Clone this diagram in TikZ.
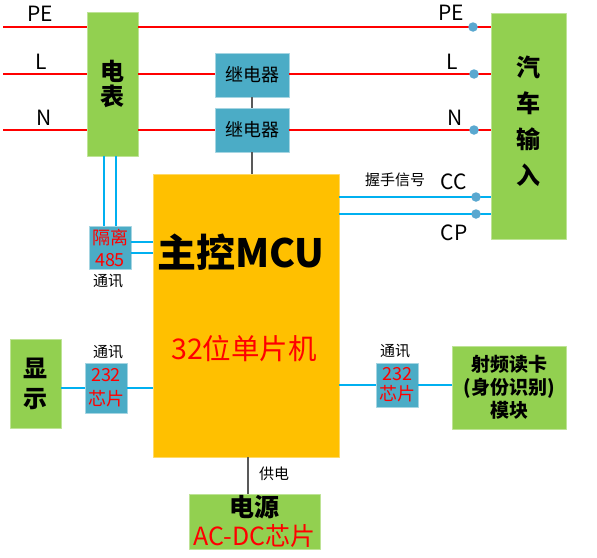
\documentclass[tikz,border=0pt]{standalone}
\usepackage{fontspec}
\setmainfont{Noto Sans CJK SC}
\usetikzlibrary{calc}
\definecolor{boxgreen}{HTML}{92D050}
\definecolor{relayblue}{HTML}{4BACC6}
\definecolor{mcuorange}{HTML}{FFC000}
\definecolor{sigblue}{HTML}{00B0F0}
\definecolor{tapblue}{HTML}{5AA8D0}
\definecolor{tiegray}{HTML}{595959}
\newcommand{\fsz}[2]{\fontsize{#1}{#2}\selectfont}
\begin{document}
\begin{tikzpicture}[x=1pt, y=-1pt, line join=round,
    box/.style={rectangle, inner sep=0pt, align=center},
    greenbox/.style={box, fill=boxgreen, draw=boxgreen!60!white, line width=0.8pt},
    relaybox/.style={box, fill=relayblue, draw=relayblue!50!white, line width=0.8pt},
    mains/.style={draw=red, line width=2pt},
    sig/.style={draw=sigblue, line width=1.8pt},
    tie/.style={draw=tiegray, line width=1.1pt},
    tap/.style={circle, fill=tapblue, inner sep=0pt, minimum size=9.5pt},
    lbl/.style={inner sep=0pt, font=\fsz{21}{21}},
    note/.style={inner sep=0pt, font=\fsz{15}{15}}]
    \useasboundingbox (0,0) rectangle (597,557);

    % boxes
    \node[greenbox, minimum width=51pt, minimum height=144pt, font=\fsz{24}{25}\bfseries] (meter) at (112.5,84) {电\\表};
    \node[relaybox, minimum width=74pt, minimum height=44pt, font=\fsz{18}{18}] (relayA) at (252,75) {继电器};
    \node[relaybox, minimum width=74pt, minimum height=44pt, font=\fsz{18}{18}] (relayB) at (252,130) {继电器};
    \node[greenbox, minimum width=75pt, minimum height=226pt] (car) at (528.5,126) {};
    \node[box, inner sep=0pt, font=\fsz{24}{36}\bfseries] (cartext) at (528,121) {汽\\车\\输\\入};
    \node[box, fill=mcuorange, draw=mcuorange!60!white, line width=0.8pt, minimum width=186pt, minimum height=283pt] (mcu) at (246,315.5) {};
    \node[inner sep=0pt, font=\fsz{39}{39}\bfseries] (mcutitle) at (241,252) {主控MCU};
    \node[inner sep=0pt, red, font=\fsz{28.5}{28.5}] (mcusub) at (244,349) {32位单片机};
    \node[relaybox, minimum width=42pt, minimum height=43pt, text=red, font=\fsz{18}{22}] (iso) at (110,247.5) {隔离\\485};
    \node[greenbox, minimum width=51pt, minimum height=89pt, font=\fsz{24}{30}\bfseries] (disp) at (35.5,383.5) {显\\示};
    \node[relaybox, minimum width=42pt, minimum height=50pt, text=red, font=\fsz{18}{24}] (chipL) at (106,388) {232\\芯片};
    \node[relaybox, minimum width=42pt, minimum height=44pt, text=red, font=\fsz{18}{20}] (chipR) at (397,385) {232\\芯片};
    \node[greenbox, minimum width=114pt, minimum height=83pt, font=\fsz{19}{23}\bfseries] (rfid) at (509,387.5) {射频读卡\\(身份识别)\\模块};
    \node[greenbox, minimum width=131pt, minimum height=55pt, font=\fsz{25}{29}] (power) at (254.5,521.5) {\bfseries 电源\\\textcolor{red}{AC-DC芯片}};

    % mains lines
    \coordinate (pe) at (3,27);
    \coordinate (l) at (3,74);
    \coordinate (n) at (3,130);
    \draw[mains] (pe) -- (pe -| meter.west);
    \draw[mains] (pe -| meter.east) -- (pe -| car.west);
    \draw[mains] (l) -- (l -| meter.west);
    \draw[mains] (l -| meter.east) -- (l -| relayA.west);
    \draw[mains] (l -| relayA.east) -- (l -| car.west);
    \draw[mains] (n) -- (n -| meter.west);
    \draw[mains] (n -| meter.east) -- (n -| relayB.west);
    \draw[mains] (n -| relayB.east) -- (n -| car.west);

    % gray ties
    \draw[tie] (relayA.south) -- (relayB.north);
    \draw[tie] (relayB.south) -- (relayB.south |- mcu.north);
    \draw[tie] ([xshift=2pt]mcu.south) -- ([xshift=2pt]mcu.south |- power.north);

    % signal lines
    \coordinate (cc) at (476,197);
    \coordinate (cp) at (476,214);
    \draw[sig] (cc -| mcu.east) -- (cc -| car.west);
    \draw[sig] (cp -| mcu.east) -- (cp -| car.west);
    \draw[sig] ([xshift=-6pt]iso.north |- meter.south) -- ([xshift=-6pt]iso.north);
    \draw[sig] ([xshift=6pt]iso.north |- meter.south) -- ([xshift=6pt]iso.north);
    \draw[sig] ([yshift=5.5pt]iso.east) -- ([yshift=5.5pt]iso.east -| mcu.west);
    \draw[sig] ([yshift=-5.5pt]iso.east) -- ([yshift=-5.5pt]iso.east -| mcu.west);
    \draw[sig] (chipL.west -| disp.east) -- (chipL.west);
    \draw[sig] (chipL.east) -- (chipL.east -| mcu.west);
    \draw[sig] (chipR.west -| mcu.east) -- (chipR.west);
    \draw[sig] (chipR.east) -- (chipR.east -| rfid.west);

    % taps at car input
    \node[tap] (tappe) at (473,27) {};
    \node[tap] (tapl) at (474,74) {};
    \node[tap] (tapn) at (474,130) {};
    \node[tap] (tapcc) at (cc) {};
    \node[tap] (tapcp) at (cp) {};

    % labels
    \node[lbl] (pelbl) at (40,14) {PE};
    \node[lbl] (llbl) at (41,62) {L};
    \node[lbl] (nlbl) at (44,118) {N};
    \node[lbl] (pelblR) at (451,13) {PE};
    \node[lbl] (llblR) at (452,62) {L};
    \node[lbl] (nlblR) at (455,118) {N};
    \node[lbl] (cclbl) at (454,182) {CC};
    \node[lbl] (cplbl) at (454,233) {CP};
    \node[note] (handshake) at (395,180) {握手信号};
    \node[note] (comA) at (108,281) {通讯};
    \node[note] (comB) at (108,352) {通讯};
    \node[note] (comC) at (395,351) {通讯};
    \node[note] (supply) at (274,474) {供电};
\end{tikzpicture}
\end{document}
